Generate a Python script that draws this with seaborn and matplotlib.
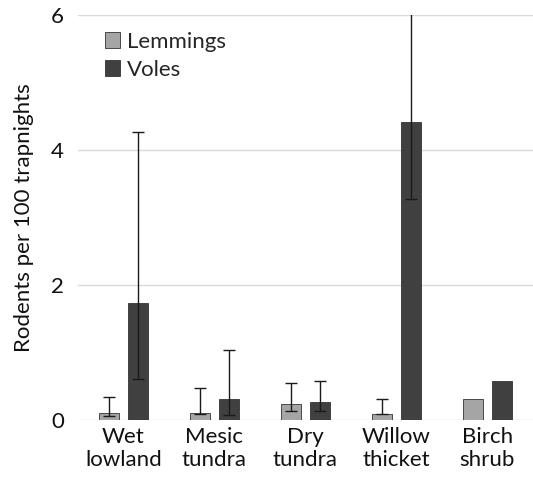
import numpy as np
import pandas as pd
import seaborn as sns
import matplotlib.pyplot as plt

habitats = ["Wet\nlowland", "Mesic\ntundra", "Dry\ntundra", "Willow\nthicket", "Birch\nshrub"]
species = ["Lemmings", "Voles"]

lemmings = [0.10, 0.10, 0.24, 0.08, 0.31]
lemmings_lo = [0.06, 0.08, 0.13, 0.08, np.nan]
lemmings_hi = [0.34, 0.47, 0.55, 0.31, np.nan]

voles = [1.73, 0.31, 0.27, 4.42, 0.57]
voles_lo = [0.60, 0.07, 0.13, 3.27, np.nan]
voles_hi = [4.26, 1.03, 0.57, 6.30, np.nan]

colors = {"Lemmings": "#a5a5a5", "Voles": "#404040"}

df = pd.DataFrame({
    "habitat": habitats * 2,
    "species": ["Lemmings"] * 5 + ["Voles"] * 5,
    "value": lemmings + voles,
})

sns.set_style("white")
plt.rcParams["font.family"] = ["Lato", "DejaVu Sans"]

fig = plt.figure(figsize=(5.33, 4.82), dpi=100)
ax = fig.add_axes([0.146, 0.129, 0.854, 0.84])

sns.barplot(data=df, x="habitat", y="value", hue="species", order=habitats,
            hue_order=species, palette=colors, width=0.64, gap=0.3,
            errorbar=None, edgecolor="#333333", linewidth=0.6, ax=ax, zorder=3)

# asymmetric error bars placed on the bar centres
for container, lo, hi in zip(ax.containers, [lemmings_lo, voles_lo], [lemmings_hi, voles_hi]):
    for patch, l, h in zip(container.patches, lo, hi):
        if np.isnan(l):
            continue
        xc = patch.get_x() + patch.get_width() / 2
        v = patch.get_height()
        ax.errorbar(xc, v, yerr=[[v - l], [h - v]], fmt="none", ecolor="#1a1a1a",
                    elinewidth=1.0, capsize=4, capthick=1.0, zorder=4)

ax.set_ylim(0, 6)
ax.set_xlim(-0.5, 4.5)
ax.set_yticks([0, 2, 4, 6])
ax.yaxis.grid(True, color="#d9d9d9", linewidth=1)
ax.set_axisbelow(True)
for s in ax.spines.values():
    s.set_visible(False)
ax.tick_params(axis="both", length=0, labelsize=16, colors="#111111", pad=5)
ax.tick_params(axis="y", pad=10)
ax.set_xlabel("")
ax.set_ylabel("Rodents per 100 trapnights", fontsize=16, color="#111111", labelpad=12)

ax.legend(loc="upper left", bbox_to_anchor=(0.04, 0.98), frameon=False, fontsize=16,
          handlelength=0.7, handleheight=0.7, handletextpad=0.3, labelspacing=0.35,
          borderaxespad=0)

fig.savefig("out.png", dpi=100)
